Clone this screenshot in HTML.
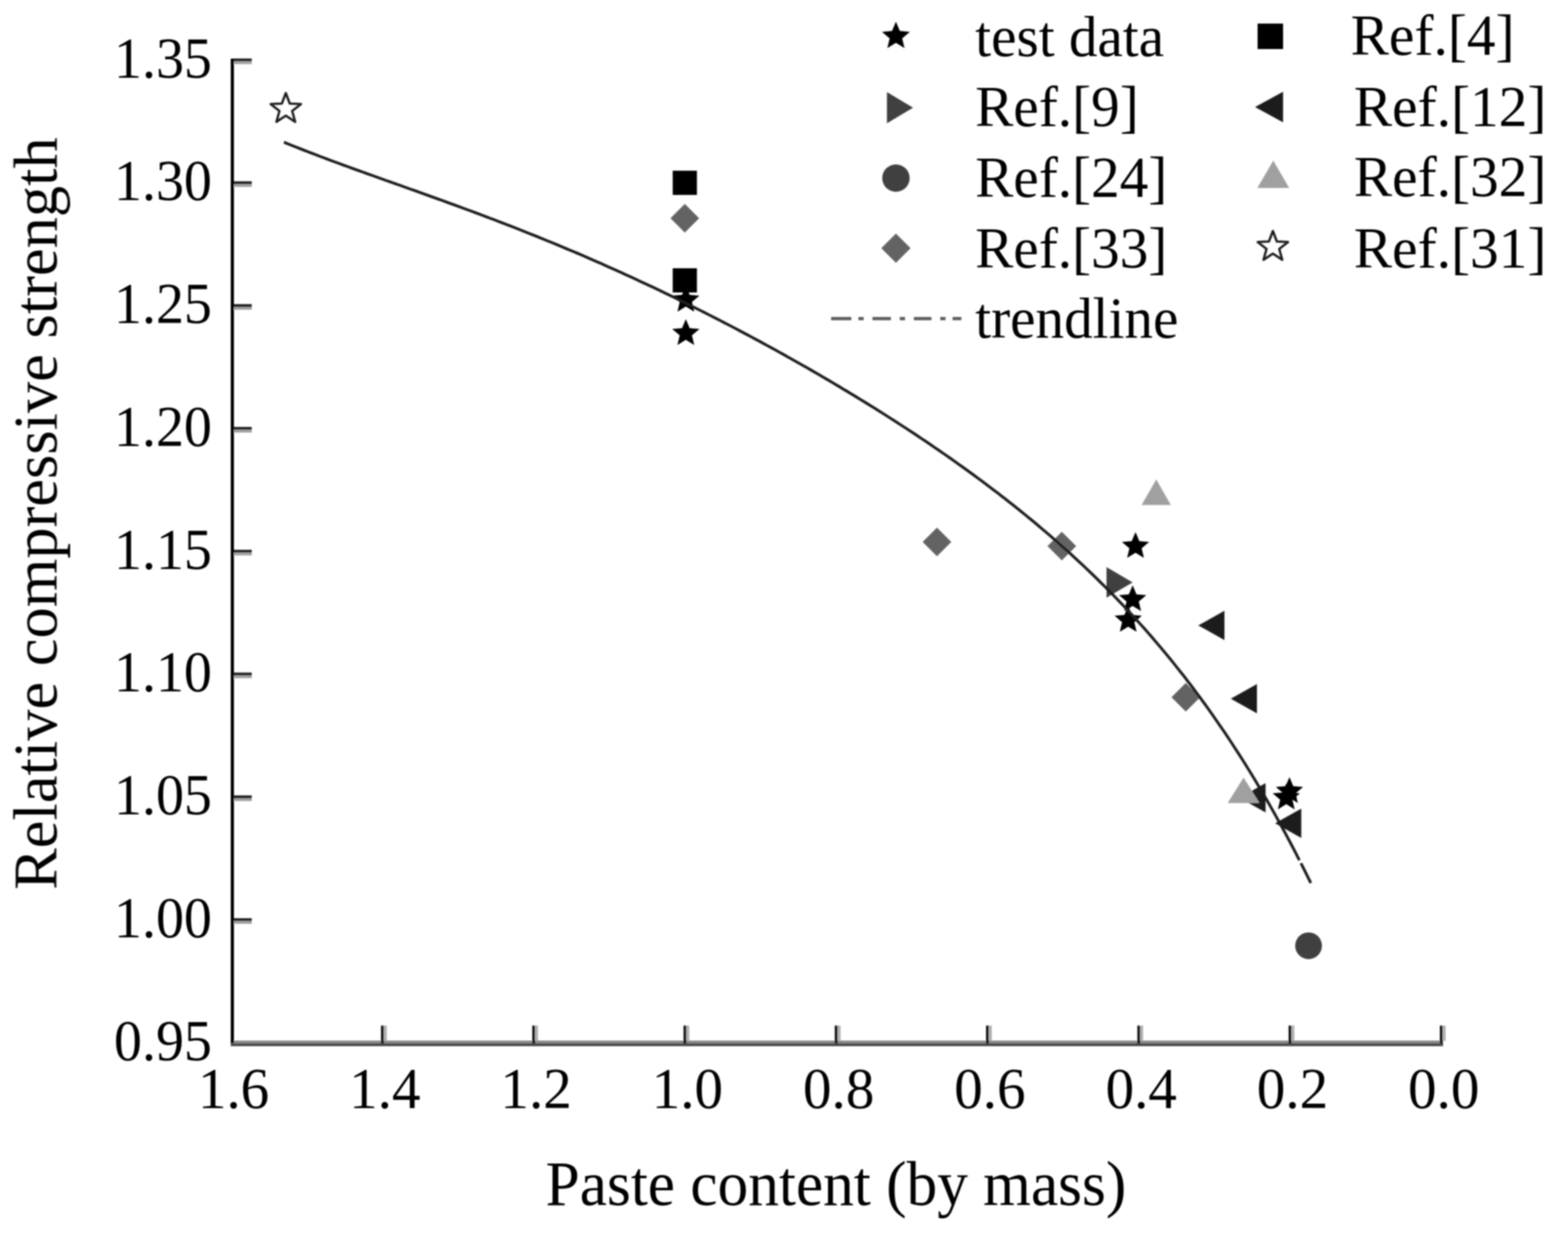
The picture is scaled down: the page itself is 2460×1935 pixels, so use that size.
<!DOCTYPE html><html><head><meta charset="utf-8"><title>Relative compressive strength vs paste content</title><style>html,body{margin:0;padding:0;background:#fff;}svg{display:block;}text{font-family:"Liberation Serif","Times New Roman",serif;fill:#000;}</style></head><body>
<svg width="2460" height="1935" viewBox="0 0 2460 1935">
<defs><filter id="soft" x="0" y="0" width="2460" height="1935" filterUnits="userSpaceOnUse"><feGaussianBlur stdDeviation="0.9"/></filter></defs>
<rect x="0" y="0" width="2460" height="1935" fill="#fff"/>
<g filter="url(#soft)">
<rect x="362" y="92" width="5" height="1545" fill="#000"/>
<rect x="367" y="1633" width="1897" height="4.4" fill="#8a8a8a"/>
<rect x="362" y="1637.2" width="1902" height="4.6" fill="#484848"/>
<rect x="367" y="1441.0" width="28" height="4.6" fill="#222"/>
<rect x="367" y="1445.6" width="28" height="4.2" fill="#a0a0a0"/>
<rect x="367" y="1248.3" width="28" height="4.6" fill="#222"/>
<rect x="367" y="1252.9" width="28" height="4.2" fill="#a0a0a0"/>
<rect x="367" y="1055.5" width="28" height="4.6" fill="#222"/>
<rect x="367" y="1060.1" width="28" height="4.2" fill="#a0a0a0"/>
<rect x="367" y="862.8" width="28" height="4.6" fill="#222"/>
<rect x="367" y="867.4" width="28" height="4.2" fill="#a0a0a0"/>
<rect x="367" y="670.0" width="28" height="4.6" fill="#222"/>
<rect x="367" y="674.6" width="28" height="4.2" fill="#a0a0a0"/>
<rect x="367" y="477.3" width="28" height="4.6" fill="#222"/>
<rect x="367" y="481.9" width="28" height="4.2" fill="#a0a0a0"/>
<rect x="367" y="284.5" width="28" height="4.6" fill="#222"/>
<rect x="367" y="289.1" width="28" height="4.2" fill="#a0a0a0"/>
<rect x="367" y="91.8" width="28" height="4.6" fill="#222"/>
<rect x="367" y="96.4" width="28" height="4.2" fill="#a0a0a0"/>
<rect x="597.8" y="1609.5" width="4.4" height="28" fill="#111"/>
<rect x="602.2" y="1609.5" width="4.6" height="24" fill="#b0b0b0"/>
<rect x="835.1" y="1609.5" width="4.4" height="28" fill="#111"/>
<rect x="839.5" y="1609.5" width="4.6" height="24" fill="#b0b0b0"/>
<rect x="1072.4" y="1609.5" width="4.4" height="28" fill="#111"/>
<rect x="1076.8" y="1609.5" width="4.6" height="24" fill="#b0b0b0"/>
<rect x="1309.7" y="1609.5" width="4.4" height="28" fill="#111"/>
<rect x="1314.1" y="1609.5" width="4.6" height="24" fill="#b0b0b0"/>
<rect x="1547.0" y="1609.5" width="4.4" height="28" fill="#111"/>
<rect x="1551.4" y="1609.5" width="4.6" height="24" fill="#b0b0b0"/>
<rect x="1784.4" y="1609.5" width="4.4" height="28" fill="#111"/>
<rect x="1788.8" y="1609.5" width="4.6" height="24" fill="#b0b0b0"/>
<rect x="2021.7" y="1609.5" width="4.4" height="28" fill="#111"/>
<rect x="2026.1" y="1609.5" width="4.6" height="24" fill="#b0b0b0"/>
<rect x="2259.0" y="1609.5" width="4.4" height="28" fill="#111"/>
<rect x="2263.4" y="1609.5" width="4.6" height="24" fill="#b0b0b0"/>
<text transform="translate(332.5,1663.5) scale(0.965,1)" font-size="91" text-anchor="end">0.95</text>
<text transform="translate(332.5,1470.7) scale(0.965,1)" font-size="91" text-anchor="end">1.00</text>
<text transform="translate(332.5,1278.0) scale(0.965,1)" font-size="91" text-anchor="end">1.05</text>
<text transform="translate(332.5,1085.2) scale(0.965,1)" font-size="91" text-anchor="end">1.10</text>
<text transform="translate(332.5,892.5) scale(0.965,1)" font-size="91" text-anchor="end">1.15</text>
<text transform="translate(332.5,699.8) scale(0.965,1)" font-size="91" text-anchor="end">1.20</text>
<text transform="translate(332.5,507.0) scale(0.965,1)" font-size="91" text-anchor="end">1.25</text>
<text transform="translate(332.5,314.2) scale(0.965,1)" font-size="91" text-anchor="end">1.30</text>
<text transform="translate(332.5,121.5) scale(0.965,1)" font-size="91" text-anchor="end">1.35</text>
<text transform="translate(366.4,1739) scale(0.985,1)" font-size="91" text-anchor="middle">1.6</text>
<text transform="translate(603.8,1739) scale(0.985,1)" font-size="91" text-anchor="middle">1.4</text>
<text transform="translate(841.1,1739) scale(0.985,1)" font-size="91" text-anchor="middle">1.2</text>
<text transform="translate(1078.4,1739) scale(0.985,1)" font-size="91" text-anchor="middle">1.0</text>
<text transform="translate(1315.7,1739) scale(0.985,1)" font-size="91" text-anchor="middle">0.8</text>
<text transform="translate(1553.0,1739) scale(0.985,1)" font-size="91" text-anchor="middle">0.6</text>
<text transform="translate(1790.4,1739) scale(0.985,1)" font-size="91" text-anchor="middle">0.4</text>
<text transform="translate(2027.7,1739) scale(0.985,1)" font-size="91" text-anchor="middle">0.2</text>
<text transform="translate(2265.0,1739) scale(0.985,1)" font-size="91" text-anchor="middle">0.0</text>
<text transform="translate(1311.5,1891) scale(0.962,1)" font-size="100" text-anchor="middle">Paste content (by mass)</text>
<text transform="translate(88.6,806) rotate(-90)" font-size="98" text-anchor="middle">Relative compressive strength</text>
<polygon points="1074.4,320.1 1096.9,342.6 1074.4,365.1 1051.9,342.6" fill="#646464"/>
<polygon points="1470,828.1 1492.5,850.6 1470,873.1 1447.5,850.6" fill="#646464"/>
<polygon points="1665.9,834.5 1688.4,857 1665.9,879.5 1643.4,857" fill="#646464"/>
<polygon points="1860.4,1071.8 1882.9,1094.3 1860.4,1116.8 1837.9,1094.3" fill="#646464"/>
<polygon points="1814.0,752.4 1837.0,792.4 1791.0,792.4" fill="#a0a0a0"/>
<polygon points="1880.0,981.5 1921.0,958.5 1921.0,1004.5" fill="#1c1c1c"/>
<polygon points="1931.0,1096.5 1972.0,1073.5 1972.0,1119.5" fill="#1c1c1c"/>
<polygon points="1944.5,1252.0 1985.5,1229.0 1985.5,1275.0" fill="#1c1c1c"/>
<polygon points="2000.5,1292.0 2041.5,1269.0 2041.5,1315.0" fill="#1c1c1c"/>
<polygon points="1951.0,1220.3 1976.0,1260.3 1926.0,1260.3" fill="#a0a0a0"/>
<polygon points="1777.0,914.0 1736.0,938.0 1736.0,890.0" fill="#404040"/>
<rect x="1055.4" y="267.9" width="38" height="38" fill="#000"/>
<rect x="1055.4" y="421.0" width="38" height="38" fill="#000"/>
<circle cx="2053" cy="1484.2" r="21" fill="#3f3f3f"/>
<polygon points="1076.0,448.5 1082.0,462.8 1097.4,464.0 1085.6,474.1 1089.2,489.2 1076.0,481.1 1062.8,489.2 1066.4,474.1 1054.6,464.0 1070.0,462.8" fill="#000"/>
<polygon points="1076.0,500.7 1082.0,515.0 1097.4,516.2 1085.6,526.3 1089.2,541.4 1076.0,533.3 1062.8,541.4 1066.4,526.3 1054.6,516.2 1070.0,515.0" fill="#000"/>
<polygon points="1781.5,834.9 1787.5,849.2 1802.9,850.4 1791.1,860.5 1794.7,875.6 1781.5,867.5 1768.3,875.6 1771.9,860.5 1760.1,850.4 1775.5,849.2" fill="#000"/>
<polygon points="1777.0,918.4 1783.0,932.7 1798.4,933.9 1786.6,944.0 1790.2,959.1 1777.0,951.0 1763.8,959.1 1767.4,944.0 1755.6,933.9 1771.0,932.7" fill="#000"/>
<polygon points="1770.0,950.8 1776.0,965.1 1791.4,966.3 1779.6,976.4 1783.2,991.5 1770.0,983.4 1756.8,991.5 1760.4,976.4 1748.6,966.3 1764.0,965.1" fill="#000"/>
<polygon points="2023.0,1219.5 2029.0,1233.8 2044.4,1235.0 2032.6,1245.1 2036.2,1260.2 2023.0,1252.1 2009.8,1260.2 2013.4,1245.1 2001.6,1235.0 2017.0,1233.8" fill="#000"/>
<polygon points="2018.0,1229.5 2024.0,1243.8 2039.4,1245.0 2027.6,1255.1 2031.2,1270.2 2018.0,1262.1 2004.8,1270.2 2008.4,1255.1 1996.6,1245.0 2012.0,1243.8" fill="#000"/>
<polygon points="448.4,146.0 454.6,162.5 472.2,163.3 458.4,174.2 463.1,191.2 448.4,181.5 433.7,191.2 438.4,174.2 424.6,163.3 442.2,162.5" fill="none" stroke="#1a1a1a" stroke-width="3.6" stroke-linejoin="round"/>
<path d="M445.5,223.1 L451.7,225.7 L457.9,228.2 L464.2,230.7 L470.4,233.1 L476.6,235.6 L482.8,238.0 L489.0,240.4 L495.3,242.8 L501.5,245.2 L507.7,247.5 L513.9,249.9 L520.1,252.2 L526.4,254.5 L532.6,256.8 L538.8,259.1 L545.0,261.3 L551.2,263.6 L557.5,265.9 L563.7,268.1 L569.9,270.3 L576.1,272.6 L582.3,274.8 L588.6,277.0 L594.8,279.3 L601.0,281.5 L607.2,283.7 L613.4,285.9 L619.7,288.1 L625.9,290.3 L632.1,292.5 L638.3,294.8 L644.5,297.0 L650.8,299.2 L657.0,301.4 L663.2,303.6 L669.4,305.9 L675.6,308.1 L681.9,310.3 L688.1,312.6 L694.3,314.8 L700.5,317.1 L706.7,319.4 L713.0,321.6 L719.2,323.9 L725.4,326.2 L731.6,328.5 L737.8,330.8 L744.1,333.1 L750.3,335.4 L756.5,337.8 L762.7,340.1 L768.9,342.5 L775.2,344.8 L781.4,347.2 L787.6,349.6 L793.8,352.0 L800.0,354.4 L806.3,356.8 L812.5,359.3 L818.7,361.7 L824.9,364.2 L831.1,366.7 L837.4,369.1 L843.6,371.6 L849.8,374.2 L856.0,376.7 L862.2,379.2 L868.5,381.8 L874.7,384.4 L880.9,387.0 L887.1,389.6 L893.3,392.2 L899.6,394.8 L905.8,397.4 L912.0,400.1 L918.2,402.8 L924.4,405.5 L930.7,408.2 L936.9,410.9 L943.1,413.6 L949.3,416.4 L955.5,419.2 L961.8,421.9 L968.0,424.7 L974.2,427.6 L980.4,430.4 L986.6,433.2 L992.9,436.1 L999.1,439.0 L1005.3,441.9 L1011.5,444.8 L1017.7,447.7 L1024.0,450.6 L1030.2,453.6 L1036.4,456.5 L1042.6,459.5 L1048.8,462.5 L1055.1,465.5 L1061.3,468.6 L1067.5,471.6 L1073.7,474.7 L1079.9,477.8 L1086.2,480.9 L1092.4,484.0 L1098.6,487.1 L1104.8,490.2 L1111.0,493.4 L1117.3,496.6 L1123.5,499.7 L1129.7,502.9 L1135.9,506.2 L1142.1,509.4 L1148.4,512.6 L1154.6,515.9 L1160.8,519.2 L1167.0,522.5 L1173.2,525.8 L1179.5,529.1 L1185.7,532.5 L1191.9,535.8 L1198.1,539.2 L1204.3,542.6 L1210.6,546.0 L1216.8,549.4 L1223.0,552.9 L1229.2,556.3 L1235.4,559.8 L1241.7,563.3 L1247.9,566.8 L1254.1,570.3 L1260.3,573.9 L1266.6,577.4 L1272.8,581.0 L1279.0,584.6 L1285.2,588.2 L1291.4,591.9 L1297.7,595.5 L1303.9,599.2 L1310.1,602.8 L1316.3,606.5 L1322.5,610.3 L1328.8,614.0 L1335.0,617.8 L1341.2,621.5 L1347.4,625.3 L1353.6,629.2 L1359.9,633.0 L1366.1,636.9 L1372.3,640.7 L1378.5,644.6 L1384.7,648.5 L1391.0,652.5 L1397.2,656.5 L1403.4,660.4 L1409.6,664.5 L1415.8,668.5 L1422.1,672.5 L1428.3,676.6 L1434.5,680.7 L1440.7,684.9 L1446.9,689.0 L1453.2,693.2 L1459.4,697.4 L1465.6,701.7 L1471.8,705.9 L1478.0,710.2 L1484.3,714.5 L1490.5,718.9 L1496.7,723.3 L1502.9,727.7 L1509.1,732.1 L1515.4,736.6 L1521.6,741.1 L1527.8,745.6 L1534.0,750.2 L1540.2,754.8 L1546.5,759.5 L1552.7,764.2 L1558.9,768.9 L1565.1,773.6 L1571.3,778.4 L1577.6,783.3 L1583.8,788.2 L1590.0,793.1 L1596.2,798.0 L1602.4,803.0 L1608.7,808.1 L1614.9,813.2 L1621.1,818.3 L1627.3,823.5 L1633.5,828.8 L1639.8,834.1 L1646.0,839.4 L1652.2,844.8 L1658.4,850.2 L1664.6,855.8 L1670.9,861.3 L1677.1,866.9 L1683.3,872.6 L1689.5,878.3 L1695.7,884.1 L1702.0,890.0 L1708.2,895.9 L1714.4,901.9 L1720.6,907.9 L1726.8,914.1 L1733.1,920.2 L1739.3,926.5 L1745.5,932.8 L1751.7,939.2 L1757.9,945.7 L1764.2,952.3 L1770.4,958.9 L1776.6,965.7 L1782.8,972.5 L1789.0,979.4 L1795.3,986.3 L1801.5,993.4 L1807.7,1000.5 L1813.9,1007.8 L1820.1,1015.1 L1826.4,1022.6 L1832.6,1030.1 L1838.8,1037.7 L1845.0,1045.5 L1851.2,1053.3 L1857.5,1061.2 L1863.7,1069.3 L1869.9,1077.4 L1876.1,1085.7 L1882.3,1094.1 L1888.6,1102.6 L1894.8,1111.2 L1901.0,1120.0 L1907.2,1128.9 L1913.4,1137.9 L1919.7,1147.0 L1925.9,1156.2 L1932.1,1165.6 L1938.3,1175.2 L1944.5,1184.8 L1950.8,1194.6 L1957.0,1204.6 L1963.2,1214.7 L1969.4,1224.9 L1975.6,1235.3 L1981.9,1245.9 L1988.1,1256.6 L1994.3,1267.5 L2000.5,1278.5 L2006.7,1289.8 L2013.0,1301.1 L2019.2,1312.7 L2025.4,1324.4 L2031.6,1336.3 L2037.8,1348.4 L2044.1,1360.7 L2050.3,1373.2 L2056.5,1385.8" fill="none" stroke="#1e1e1e" stroke-width="4.4" stroke-dasharray="2005.8 5.5 4000"/>
<polygon points="1405.6,34.0 1411.7,48.6 1427.5,49.9 1415.4,60.2 1419.1,75.6 1405.6,67.3 1392.1,75.6 1395.8,60.2 1383.7,49.9 1399.5,48.6" fill="#000"/>
<polygon points="1432.5,169.0 1391.5,193.5 1391.5,144.5" fill="#404040"/>
<circle cx="1405.6" cy="279.5" r="21.5" fill="#3f3f3f"/>
<polygon points="1405.6,366.5 1428.6,389.5 1405.6,412.5 1382.6,389.5" fill="#646464"/>
<rect x="1973.0" y="37.0" width="40" height="40" fill="#000"/>
<polygon points="1969.0,168.0 2013.0,144.0 2013.0,192.0" fill="#1c1c1c"/>
<polygon points="1997.6,252.0 2022.6,295.0 1972.6,295.0" fill="#a0a0a0"/>
<polygon points="1997.0,362.5 2003.2,379.0 2020.8,379.8 2007.0,390.7 2011.7,407.7 1997.0,398.0 1982.3,407.7 1987.0,390.7 1973.2,379.8 1990.8,379.0" fill="none" stroke="#1a1a1a" stroke-width="3.6" stroke-linejoin="round"/>
<g fill="#5a5a5a"><rect x="1303.9" y="497.5" width="31.7" height="5"/><rect x="1346.7" y="497.5" width="8.3" height="5"/><rect x="1368.8" y="497.5" width="29" height="5"/><rect x="1411.6" y="497.5" width="8.3" height="5"/><rect x="1433.7" y="497.5" width="27.6" height="5"/><rect x="1475.1" y="497.5" width="8.3" height="5"/><rect x="1494.5" y="497.5" width="13.8" height="5"/></g>
<text transform="translate(1530,87.9) scale(0.975,1)" font-size="92">test data</text>
<text transform="translate(1530,198.4) scale(0.975,1)" font-size="92">Ref.[9]</text>
<text transform="translate(1530,308.9) scale(0.975,1)" font-size="92">Ref.[24]</text>
<text transform="translate(1530,419.7) scale(0.975,1)" font-size="92">Ref.[33]</text>
<text transform="translate(1530,529.5) scale(0.975,1)" font-size="92">trendline</text>
<text transform="translate(2119,86.2) scale(0.978,1)" font-size="92">Ref.[4]</text>
<text transform="translate(2124,198) scale(0.978,1)" font-size="92">Ref.[12]</text>
<text transform="translate(2124,308.4) scale(0.978,1)" font-size="92">Ref.[32]</text>
<text transform="translate(2124,420.2) scale(0.978,1)" font-size="92">Ref.[31]</text>
</g>
</svg></body></html>
